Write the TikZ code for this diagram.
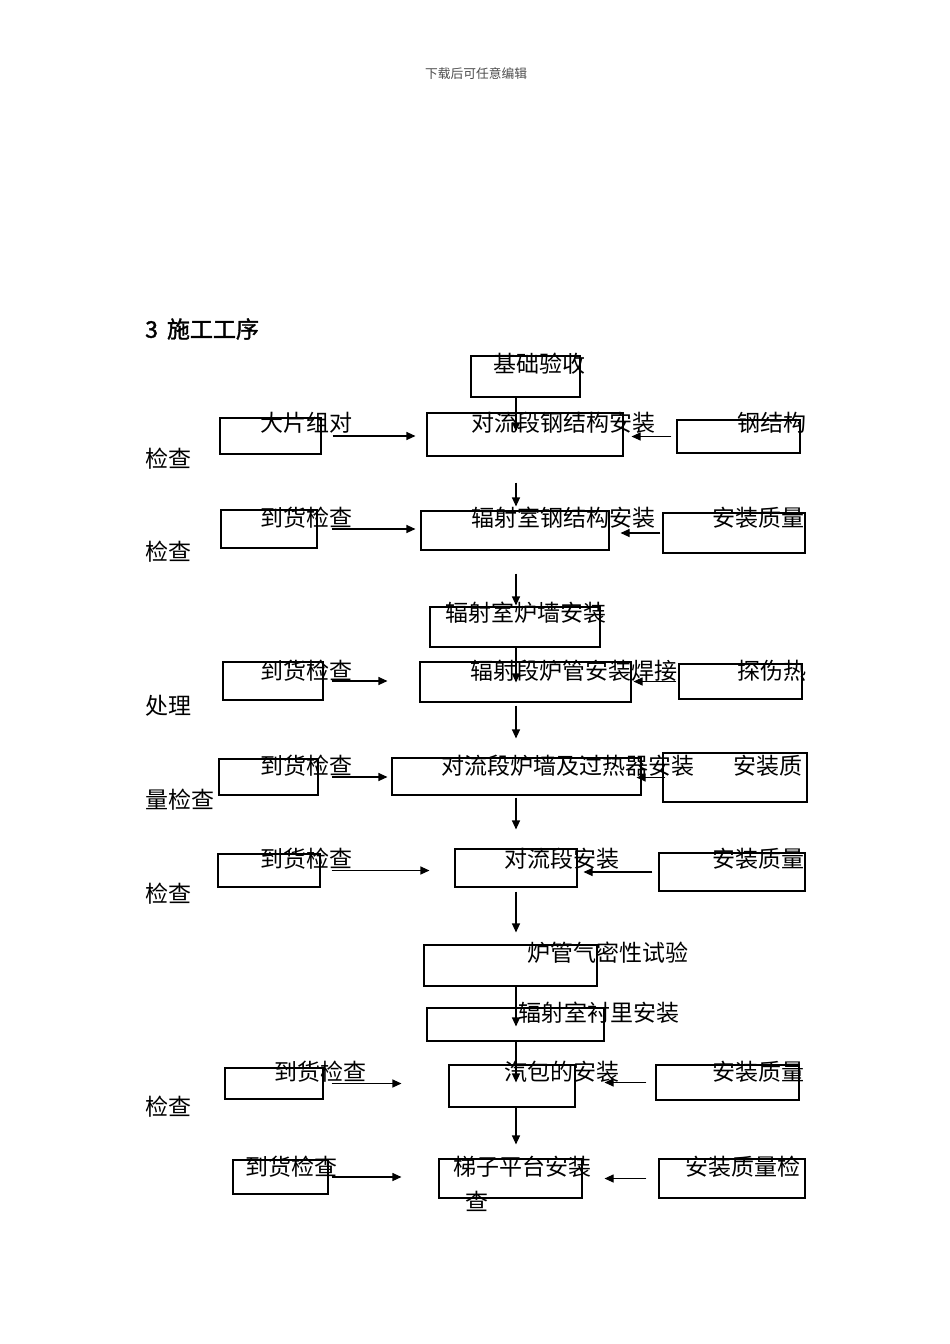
\documentclass[tikz,border=0pt]{standalone}
\usepackage{fontspec}
\setmainfont{Noto Sans CJK SC}
\newfontfamily\titlefont[FakeBold=1.5]{Noto Sans CJK SC}
\usetikzlibrary{arrows.meta,calc,fit}

\begin{document}
\begin{tikzpicture}[x=1pt,y=-1pt,
    box/.style={draw, line width=1.1pt, inner sep=0pt},
    txt/.style={anchor=west, inner sep=0pt, font=\fontsize{23}{26}\selectfont},
    arr/.style={-{Triangle[length=9pt,width=8pt]}, line width=1.1pt}]
    \useasboundingbox (0,0) rectangle (950,1344);

    \node[anchor=west, inner sep=0pt, text=black!70, font=\fontsize{12.75}{14}\selectfont] (head) at (425,74) {下载后可任意编辑};
    \node[anchor=west, inner sep=0pt, font=\titlefont\fontsize{23}{26}\selectfont] (title) at (145,329) {3\hspace{9pt}施工工序};
    \coordinate (axis) at (516,0);

    \node[box, fit={(471,356) (580,397)}] (b0) {};
    \node[box, fit={(220,418) (321,454)}] (l1) {};
    \node[box, fit={(427,413) (623,456)}] (c1) {};
    \node[box, fit={(677,420) (800,453)}] (r1) {};
    \node[box, fit={(221,510) (317,548)}] (l2) {};
    \node[box, fit={(421,511) (609,550)}] (c2) {};
    \node[box, fit={(663,513) (805,553)}] (r2) {};
    \node[box, fit={(430,607) (600,647)}] (c3) {};
    \node[box, fit={(223,662) (323,700)}] (l4) {};
    \node[box, fit={(420,662) (631,702)}] (c4) {};
    \node[box, fit={(679,664) (802,699)}] (r4) {};
    \node[box, fit={(219,759) (318,795)}] (l5) {};
    \node[box, fit={(392,758) (641,795)}] (c5) {};
    \node[box, fit={(663,753) (807,802)}] (r5) {};
    \node[box, fit={(218,854) (320,887)}] (l6) {};
    \node[box, fit={(455,849) (577,887)}] (c6) {};
    \node[box, fit={(659,853) (805,891)}] (r6) {};
    \node[box, fit={(424,945) (597,986)}] (c7) {};
    \node[box, fit={(427,1008) (604,1041)}] (c8) {};
    \node[box, fit={(225,1068) (323,1099)}] (l9) {};
    \node[box, fit={(449,1065) (575,1107)}] (c9) {};
    \node[box, fit={(656,1065) (799,1100)}] (r9) {};
    \node[box, fit={(233,1160) (328,1194)}] (l10) {};
    \node[box, fit={(439,1159) (582,1198)}] (c10) {};
    \node[box, fit={(659,1159) (805,1198)}] (r10) {};

    \node[txt] (t0) at (493,364) {基础验收};
    \node[txt] (t1l) at (260,423) {大片组对};
    \node[txt] (t1c) at (471,423) {对流段钢结构安装};
    \node[txt] (t1r) at (737,423) {钢结构};
    \node[txt] (k1) at (145,459) {检查};
    \node[txt] (t2l) at (260,518) {到货检查};
    \node[txt] (t2c) at (471,518) {辐射室钢结构安装};
    \node[txt] (t2r) at (712,518) {安装质量};
    \node[txt] (k2) at (145,552) {检查};
    \node[txt] (t3) at (445,613) {辐射室炉墙安装};
    \node[txt] (t4l) at (260,671) {到货检查};
    \node[txt] (t4c) at (470,671) {辐射段炉管安装焊接};
    \node[txt] (t4r) at (737,671) {探伤热};
    \node[txt] (k4) at (145,706) {处理};
    \node[txt] (t5l) at (260,766) {到货检查};
    \node[txt] (t5c) at (441,766) {对流段炉墙及过热器安装};
    \node[txt] (t5r) at (733,766) {安装质};
    \node[txt] (k5) at (145,800) {量检查};
    \node[txt] (t6l) at (260,859) {到货检查};
    \node[txt] (t6c) at (504,859) {对流段安装};
    \node[txt] (t6r) at (712,859) {安装质量};
    \node[txt] (k6) at (145,894) {检查};
    \node[txt] (t7) at (527,953) {炉管气密性试验};
    \node[txt] (t8) at (518,1013) {辐射室衬里安装};
    \node[txt] (t9l) at (274,1072) {到货检查};
    \node[txt] (t9c) at (504,1072) {汽包的安装};
    \node[txt] (t9r) at (712,1072) {安装质量};
    \node[txt] (k9) at (145,1107) {检查};
    \node[txt] (t10l) at (245,1167) {到货检查};
    \node[txt] (t10c) at (453,1167) {梯子平台安装};
    \node[txt] (t10d) at (465,1201) {查};
    \node[txt] (t10r) at (685,1167) {安装质量检};

    \draw[arr] (axis |- b0.south) -- ($(axis |- c1.north)+(0,19)$);
    \draw[arr] ($(axis |- c1.south)+(0,26)$) -- ($(axis |- c2.north)+(0,-4)$);
    \draw[arr] ($(axis |- c2.south)+(0,23)$) -- ($(axis |- c3.north)+(0,-1)$);
    \draw[arr] (axis |- c3.south) -- ($(axis |- c4.north)+(0,21)$);
    \draw[arr] ($(axis |- c4.south)+(0,3)$) -- ($(axis |- c5.north)+(0,-19)$);
    \draw[arr] ($(axis |- c5.south)+(0,2)$) -- ($(axis |- c6.north)+(0,-19)$);
    \draw[arr] ($(axis |- c6.south)+(0,4)$) -- ($(axis |- c7.north)+(0,-12)$);
    \draw[arr] (axis |- c7.south) -- ($(axis |- c8.north)+(0,19)$);
    \draw[arr] (axis |- c8.south) -- ($(axis |- c9.north)+(0,18)$);
    \draw[arr] (axis |- c9.south) -- ($(axis |- c10.north)+(0,-14)$);

    \draw[arr] ($(l1.east)+(11,0)$) -- ($(c1.west |- l1.east)+(-11,0)$);
    \draw[arr] ($(l2.east)+(14,0)$) -- ($(c2.west |- l2.east)+(-5,0)$);
    \draw[arr] ($(l4.east)+(8,0)$) -- ($(c4.west |- l4.east)+(-32,0)$);
    \draw[arr] ($(l5.east)+(13,0)$) -- ($(c5.west |- l5.east)+(-4,0)$);
    \draw[arr] ($(l6.east)+(11,0)$) -- ($(c6.west |- l6.east)+(-25,0)$);
    \draw[arr] ($(l9.east)+(8,0)$) -- ($(c9.west |- l9.east)+(-47,0)$);
    \draw[arr] ($(l10.east)+(3,0)$) -- ($(c10.west |- l10.east)+(-37,0)$);

    \draw[arr] ($(r1.west)+(-5,0)$) -- ($(c1.east |- r1.west)+(8,0)$);
    \draw[arr] ($(r2.west)+(-2,0)$) -- ($(c2.east |- r2.west)+(11,0)$);
    \draw[arr] ($(r4.west)+(-2,0)$) -- ($(c4.east |- r4.west)+(2,0)$);
    \draw[arr] ($(r5.west)+(3,0)$) -- ($(c5.east |- r5.west)+(-5,0)$);
    \draw[arr] ($(r6.west)+(-6,0)$) -- ($(c6.east |- r6.west)+(6,0)$);
    \draw[arr] ($(r9.west)+(-9,0)$) -- ($(c9.east |- r9.west)+(29,0)$);
    \draw[arr] ($(r10.west)+(-12,0)$) -- ($(c10.east |- r10.west)+(22,0)$);
\end{tikzpicture}
\end{document}
